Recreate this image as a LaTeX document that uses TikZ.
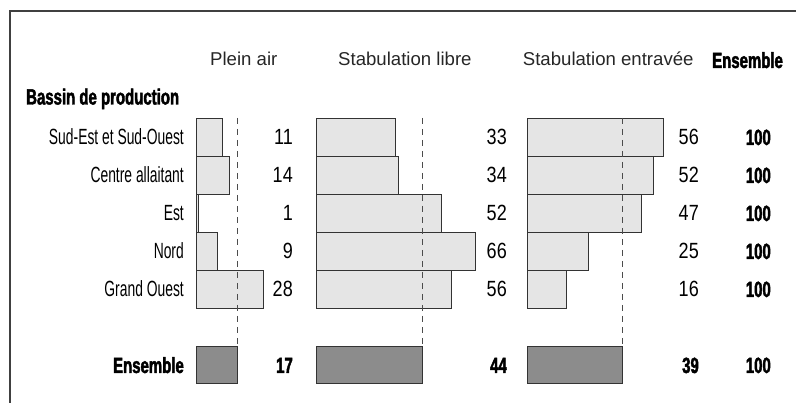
\documentclass[tikz,border=0pt]{standalone}
\usepackage{fontspec}
\setmainfont{Liberation Sans}
\newfontfamily\condfont[FakeStretch=0.63]{Liberation Sans}
\newfontfamily\numfont[FakeStretch=0.82]{Liberation Sans}
\newfontfamily\boldcond[FakeStretch=0.68,FakeBold=2]{Liberation Sans Bold}
\begin{document}
\begin{tikzpicture}[x=1pt,y=-1pt,
    frame/.style={draw=black!75,line width=1.1pt},
    bar/.style={draw=black!80,fill=black!10,line width=0.8pt},
    totbar/.style={draw=black!80,fill=black!45,line width=0.8pt},
    mean/.style={draw=black!70,dash pattern=on 6pt off 5pt,line width=0.8pt},
    head/.style={inner sep=0pt,anchor=base west,text=black!85,font=\fontsize{18.6}{18.6}\selectfont},
    bhead/.style={inner sep=0pt,anchor=base west,font=\boldcond\fontsize{22}{22}\selectfont},
    lab/.style={inner sep=0pt,anchor=base east,font=\condfont\fontsize{22}{22}\selectfont},
    blab/.style={inner sep=0pt,anchor=base east,font=\boldcond\fontsize{22}{22}\selectfont},
    num/.style={inner sep=0pt,anchor=base east,font=\numfont\fontsize{22}{22}\selectfont}]
  \useasboundingbox (0,0) rectangle (796,403);
  \draw[frame] (796,11) -- (10,11) -- (10,403);
  % headers
  \node[head] (hpa) at (210,66) {Plein air};
  \node[head] (hsl) at (338,66) {Stabulation libre};
  \node[head] (hse) at (522.7,66) {Stabulation entravée};
  \node[bhead] (hens) at (712,68) {Ensemble};
  \node[bhead] (hbassin) at (26,104.5) {Bassin de production};
  % rows
  \foreach \lbl/\pa/\sl/\se [count=\i] in {Sud-Est et Sud-Ouest/11/33/56,Centre allaitant/14/34/52,Est/1/52/47,Nord/9/66/25,Grand Ouest/28/56/16} {
    \pgfmathsetmacro\ytop{118+(\i-1)*38}
    \draw[bar] (196,\ytop) rectangle ++(\pa*2.42,38);
    \draw[bar] (316,\ytop) rectangle ++(\sl*2.42,38);
    \draw[bar] (527.7,\ytop) rectangle ++(\se*2.42,38);
    \node[lab] (lab\i) at (184,\ytop+27) {\lbl};
    \node[num] (pa\i) at (293,\ytop+27) {\pa};
    \node[num] (sl\i) at (507,\ytop+27) {\sl};
    \node[num] (se\i) at (699,\ytop+27) {\se};
    \node[blab] (ens\i) at (771,\ytop+27) {100};
  }
  % totals
  \draw[totbar] (196,346) rectangle ++(17*2.42,37.6);
  \draw[totbar] (316,346) rectangle ++(44*2.42,37.6);
  \draw[totbar] (527.7,346) rectangle ++(39*2.42,37.6);
  \foreach \x in {237.1,422.5,622.1} \draw[mean] (\x,118) -- (\x,346);
  \node[blab] (labtot) at (184,373) {Ensemble};
  \node[blab] (patot) at (293,373) {17};
  \node[blab] (sltot) at (507,373) {44};
  \node[blab] (setot) at (699,373) {39};
  \node[blab] (enstot) at (771,373) {100};
\end{tikzpicture}
\end{document}
